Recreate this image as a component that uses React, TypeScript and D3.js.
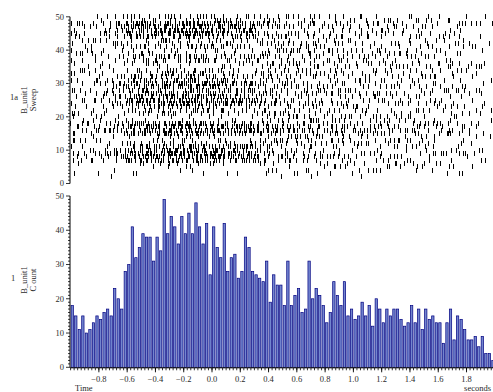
import React from "react";
import * as d3 from "d3";

// Peri-event histogram: 25 ms bins from -1 s to +2 s (spike counts per bin)
const binStart = -1;
const binWidth = 0.025;
const binCounts = [
  18, 15, 11, 15, 10, 11, 13, 15, 14, 16, 17, 15, 23, 20, 17, 28, 30, 41, 32, 35,
  39, 38, 38, 31, 38, 34, 49, 39, 44, 41, 36, 44, 39, 45, 39, 48, 41, 36, 42, 27,
  41, 35, 32, 42, 28, 32, 33, 26, 28, 38, 35, 28, 27, 26, 25, 31, 19, 27, 24, 24,
  18, 31, 18, 21, 23, 16, 17, 31, 20, 23, 21, 18, 13, 16, 25, 21, 18, 25, 15, 17,
  14, 15, 19, 15, 18, 12, 20, 17, 13, 17, 15, 17, 17, 14, 12, 13, 18, 13, 17, 11,
  17, 14, 15, 13, 13, 7, 13, 17, 8, 15, 14, 11, 8, 8, 9, 6, 9, 4, 4, 2,
];

// Relative activity of sweeps 1..50 during the response window and outside it
const responseWindow = [-0.78, 0.35];
const sweepActivityResponse = [
  0, 0.1, 0.2, 0.3, 0.4, 0.5, 2.6, 3.2, 3.2, 3.0,
  2.6, 1.2, 0.6, 0.6, 2.4, 3.4, 3.4, 2.4, 0.6, 0.5,
  0.7, 1.4, 1.8, 2.8, 3.2, 2.8, 1.6, 2.2, 2.6, 2.6,
  2.2, 1.8, 1.4, 1.0, 0.6, 0.7, 1.6, 1.6, 0.6, 1.0,
  1.4, 1.2, 0.7, 2.4, 2.8, 2.8, 3.2, 3.2, 1.4, 1.4,
];
const sweepActivityBaseline = [
  0, 0.1, 0.3, 0.5, 0.6, 0.8, 0.9, 1.0, 1.0, 1.0,
  1.0, 1.0, 1.0, 1.0, 1.2, 1.9, 1.6, 1.1, 1.0, 1.0,
  1.0, 1.0, 1.0, 1.0, 1.0, 1.0, 1.0, 1.0, 1.0, 1.0,
  1.0, 1.0, 1.0, 1.0, 1.0, 1.0, 1.0, 1.0, 1.0, 1.0,
  1.0, 1.0, 1.0, 1.0, 1.0, 1.0, 1.0, 1.0, 1.0, 0.9,
];

const xTickValues = [-0.8, -0.6, -0.4, -0.2, 0.0, 0.2, 0.4, 0.6, 0.8, 1.0, 1.2, 1.4, 1.6, 1.8];
const yTickValues = [0, 10, 20, 30, 40, 50];

const W = 493;
const H = 392;
const axisX = 70;
const font = "'Liberation Serif', 'Times New Roman', serif";
const textColor = "#2a2a2a";

const x = d3.scaleLinear().domain([-1, 2]).range([70.6, 494.8]);
const yRaster = d3.scaleLinear().domain([0, 50]).range([183.5, 16.8]);
const yHist = d3.scaleLinear().domain([0, 50]).range([367.3, 196]);

// Integer mix used to scatter spikes inside their stratum (deterministic)
function mix01(a: number, b: number, c: number) {
  let h = (Math.imul(a + 1, 374761393) ^ Math.imul(b + 7, 668265263) ^ Math.imul(c + 3, 2246822519)) | 0;
  h = Math.imul(h ^ (h >>> 13), 1274126177);
  h ^= h >>> 16;
  return (h >>> 0) / 4294967296;
}

// Each bin's spikes are laid out over the sweeps in proportion to sweep activity
function rasterFromCounts() {
  const spikes: { t: number; s: number }[] = [];
  const cumResp = d3.cumsum(sweepActivityResponse);
  const cumBase = d3.cumsum(sweepActivityBaseline);
  binCounts.forEach((c, i) => {
    const t0 = binStart + i * binWidth;
    const mid = t0 + binWidth / 2;
    const inResp = mid > responseWindow[0] && mid < responseWindow[1];
    const cum = inResp ? cumResp : cumBase;
    const total = cum[cum.length - 1];
    for (let j = 0; j < c; j++) {
      const u = ((j + mix01(i, j, 1)) / c) * total;
      const k = Math.min(d3.bisectRight(cum, u), cum.length - 1);
      spikes.push({ t: t0 + mix01(i, j, 2) * binWidth, s: k + 1 });
    }
  });
  return spikes;
}

function YAxis({ scale }: { scale: d3.ScaleLinear<number, number> }) {
  const minor = d3.range(0, 51, 1);
  return (
    <g>
      <line x1={axisX} x2={axisX} y1={scale(50)} y2={scale(0)} stroke="#000" strokeWidth={1} />
      {minor.map((v) => (
        <line key={v} x1={axisX - (v % 10 === 0 ? 4 : 2)} x2={axisX} y1={scale(v)} y2={scale(v)}
          stroke="#000" strokeWidth={0.8} />
      ))}
      {yTickValues.map((v) => (
        <text key={v} x={axisX - 6} y={scale(v)} dy="0.33em" textAnchor="end"
          fontSize={8.5} fontFamily={font} fill={textColor}>{v}</text>
      ))}
    </g>
  );
}

export default function App() {
  const spikes = rasterFromCounts();
  const binPx = x(binStart + binWidth) - x(binStart);
  const minorX = d3.range(0, 121).map((i) => binStart + i * binWidth);
  const baseY = yHist(0);

  return (
    <svg width={W} height={H} style={{ position: "absolute", left: 0, top: 0, background: "#fff" }}>
      {/* raster of spike times per sweep */}
      <g shapeRendering="crispEdges">
        {spikes.map((d, i) => (
          <line key={i} x1={x(d.t)} x2={x(d.t)} y1={yRaster(d.s) - 2.5} y2={yRaster(d.s) + 2.5}
            stroke="#000" strokeWidth={1} />
        ))}
      </g>
      <YAxis scale={yRaster} />

      {/* histogram */}
      <g>
        {binCounts.map((c, i) => {
          const t0 = binStart + i * binWidth;
          return (
            <rect key={i} x={x(t0) + 0.5} y={yHist(c)} width={binPx - 1.2} height={baseY - yHist(c)}
              fill="#7386cf" stroke="#000080" strokeWidth={0.7} />
          );
        })}
      </g>
      <YAxis scale={yHist} />

      {/* time axis */}
      <g>
        <line x1={axisX} x2={W} y1={baseY + 0.5} y2={baseY + 0.5} stroke="#000" strokeWidth={1} />
        {minorX.map((v, i) => (
          <line key={i} x1={x(v)} x2={x(v)} y1={baseY + 0.5} y2={baseY + 3} stroke="#000" strokeWidth={0.8} />
        ))}
        {xTickValues.map((v) => (
          <g key={v}>
            <line x1={x(v)} x2={x(v)} y1={baseY + 0.5} y2={baseY + 5} stroke="#000" strokeWidth={0.9} />
            <text x={x(v)} y={baseY + 14.5} textAnchor="middle" fontSize={8.5} fontFamily={font}
              fill={textColor}>{d3.format(".1f")(v)}</text>
          </g>
        ))}
        <text x={75} y={391} fontSize={8.5} fontFamily={font} fill={textColor}>Time</text>
        <text x={491} y={391} textAnchor="end" fontSize={8.5} fontFamily={font} fill={textColor}>seconds</text>
      </g>

      {/* channel labels */}
      <g fontFamily={font} fontSize={8.5} fill={textColor}>
        <text x={10} y={100}>1a</text>
        <text transform="translate(27,100) rotate(-90)" textAnchor="middle">B_unit1</text>
        <text transform="translate(36,100) rotate(-90)" textAnchor="middle">Sweep</text>
        <text x={11} y={281}>1</text>
        <text transform="translate(27,280) rotate(-90)" textAnchor="middle">B_unit1</text>
        <text transform="translate(36,280) rotate(-90)" textAnchor="middle">C ount</text>
      </g>
    </svg>
  );
}
